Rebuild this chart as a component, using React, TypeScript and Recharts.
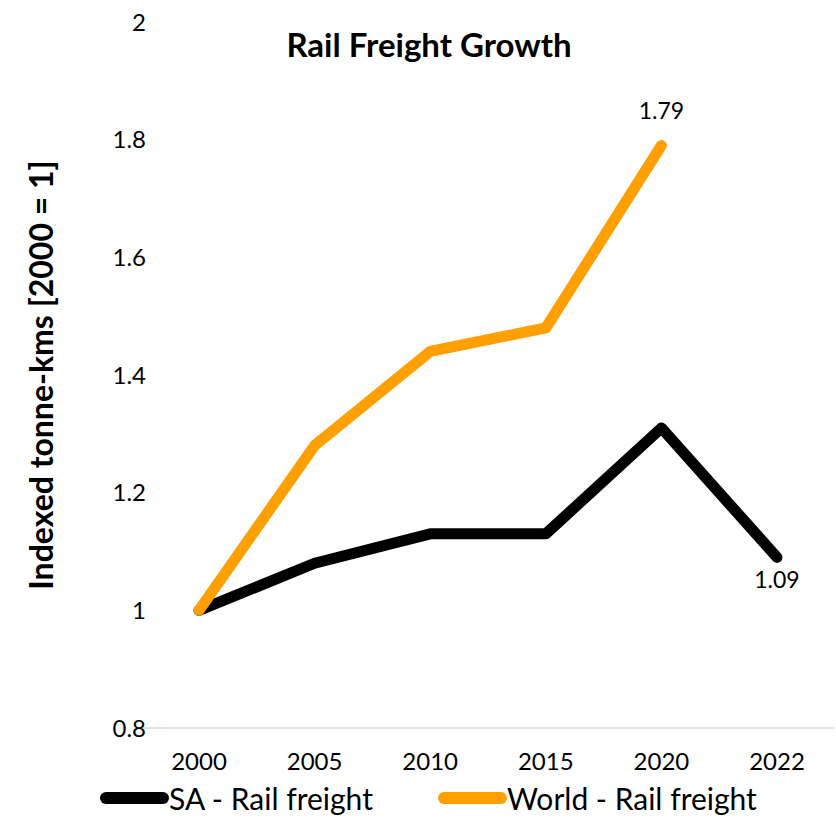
import { LineChart, Line, XAxis, YAxis, Legend, LabelList } from "recharts";

const years = ["2000", "2005", "2010", "2015", "2020", "2022"];
const saValues = [1, 1.08, 1.13, 1.13, 1.31, 1.09];
const worldValues: (number | null)[] = [1, 1.28, 1.44, 1.48, 1.79, null];
const yTicks = [0.8, 1, 1.2, 1.4, 1.6, 1.8, 2];
const labelledSa = [5];
const labelledWorld = [4];

const FONT = "Lato, 'Open Sans', sans-serif";

const data = years.map((y, i) => ({ year: y, sa: saValues[i], world: worldValues[i] }));

const series = [
  { key: "sa", name: "SA - Rail freight", color: "#000000" },
  { key: "world", name: "World - Rail freight", color: "#FFA000" },
];

function fmtTick(v: number) {
  return v === 1 || v === 2 ? String(v) : v.toFixed(1);
}

function makeLabel(indices: number[], below: boolean) {
  return (props: any) => {
    const { x, y, value, index } = props;
    if (!indices.includes(index)) return null;
    return (
      <text
        x={x}
        y={below ? y + 31 : y - 27}
        textAnchor="middle"
        fontFamily={FONT}
        fontSize={23}
        fill="#000"
      >
        {Number(value).toFixed(2)}
      </text>
    );
  };
}

function YLabel(props: any) {
  const vb = props.viewBox || {};
  const cx = 40;
  const cy = vb.y + vb.height / 2;
  return (
    <text
      x={cx}
      y={cy}
      transform={`rotate(-90 ${cx} ${cy})`}
      textAnchor="middle"
      dominantBaseline="central"
      fontFamily={FONT}
      fontSize={32}
      fontWeight={700}
      fill="#000"
    >
      Indexed tonne-kms [2000 = 1]
    </text>
  );
}

function LegendContent() {
  return (
    <div style={{ position: "relative", height: 36, fontFamily: FONT, fontSize: 30 }}>
      {series.map((s, i) => (
        <div
          key={s.key}
          style={{
            position: "absolute",
            left: i === 0 ? 99 : 437,
            top: 2,
            display: "flex",
            alignItems: "center",
            whiteSpace: "nowrap",
          }}
        >
          <svg width={70} height={16}>
            <line x1={7} y1={8} x2={64} y2={8} stroke={s.color} strokeWidth={12} strokeLinecap="round" />
          </svg>
          <span>{s.name}</span>
        </div>
      ))}
    </div>
  );
}

export default function App() {
  return (
    <div style={{ position: "absolute", left: 0, top: 0, width: 836, height: 818, background: "#fff" }}>
      <div
        style={{
          position: "absolute",
          top: 24,
          left: 229,
          width: 400,
          textAlign: "center",
          fontFamily: FONT,
          fontWeight: 700,
          fontSize: 33,
          lineHeight: "40px",
          zIndex: 2,
        }}
      >
        Rail Freight Growth
      </div>
      <LineChart width={836} height={818} data={data} margin={{ top: 22, right: 2, left: 10, bottom: 4 }}>
        <XAxis
          dataKey="year"
          padding={{ left: 57, right: 57 }}
          axisLine={{ stroke: "#d9d9d9", strokeWidth: 1.5 }}
          tickLine={false}
          tick={{ fontSize: 24, fill: "#000", fontFamily: FONT }}
          tickMargin={19}
          height={50}
        />
        <YAxis
          domain={[0.8, 2]}
          ticks={yTicks}
          tickFormatter={fmtTick}
          axisLine={false}
          tickLine={false}
          tick={{ fontSize: 24, fill: "#000", fontFamily: FONT }}
          tickMargin={-10}
          width={132}
          label={<YLabel />}
        />
        <Legend verticalAlign="bottom" content={<LegendContent />} wrapperStyle={{ left: 0, bottom: 4 }} />
        <Line
          dataKey="sa"
          name={series[0].name}
          stroke={series[0].color}
          strokeWidth={11}
          strokeLinecap="round"
          strokeLinejoin="round"
          dot={false}
          isAnimationActive={false}
        >
          <LabelList dataKey="sa" content={makeLabel(labelledSa, true)} />
        </Line>
        <Line
          dataKey="world"
          name={series[1].name}
          stroke={series[1].color}
          strokeWidth={11}
          strokeLinecap="round"
          strokeLinejoin="round"
          dot={false}
          isAnimationActive={false}
        >
          <LabelList dataKey="world" content={makeLabel(labelledWorld, false)} />
        </Line>
      </LineChart>
    </div>
  );
}
